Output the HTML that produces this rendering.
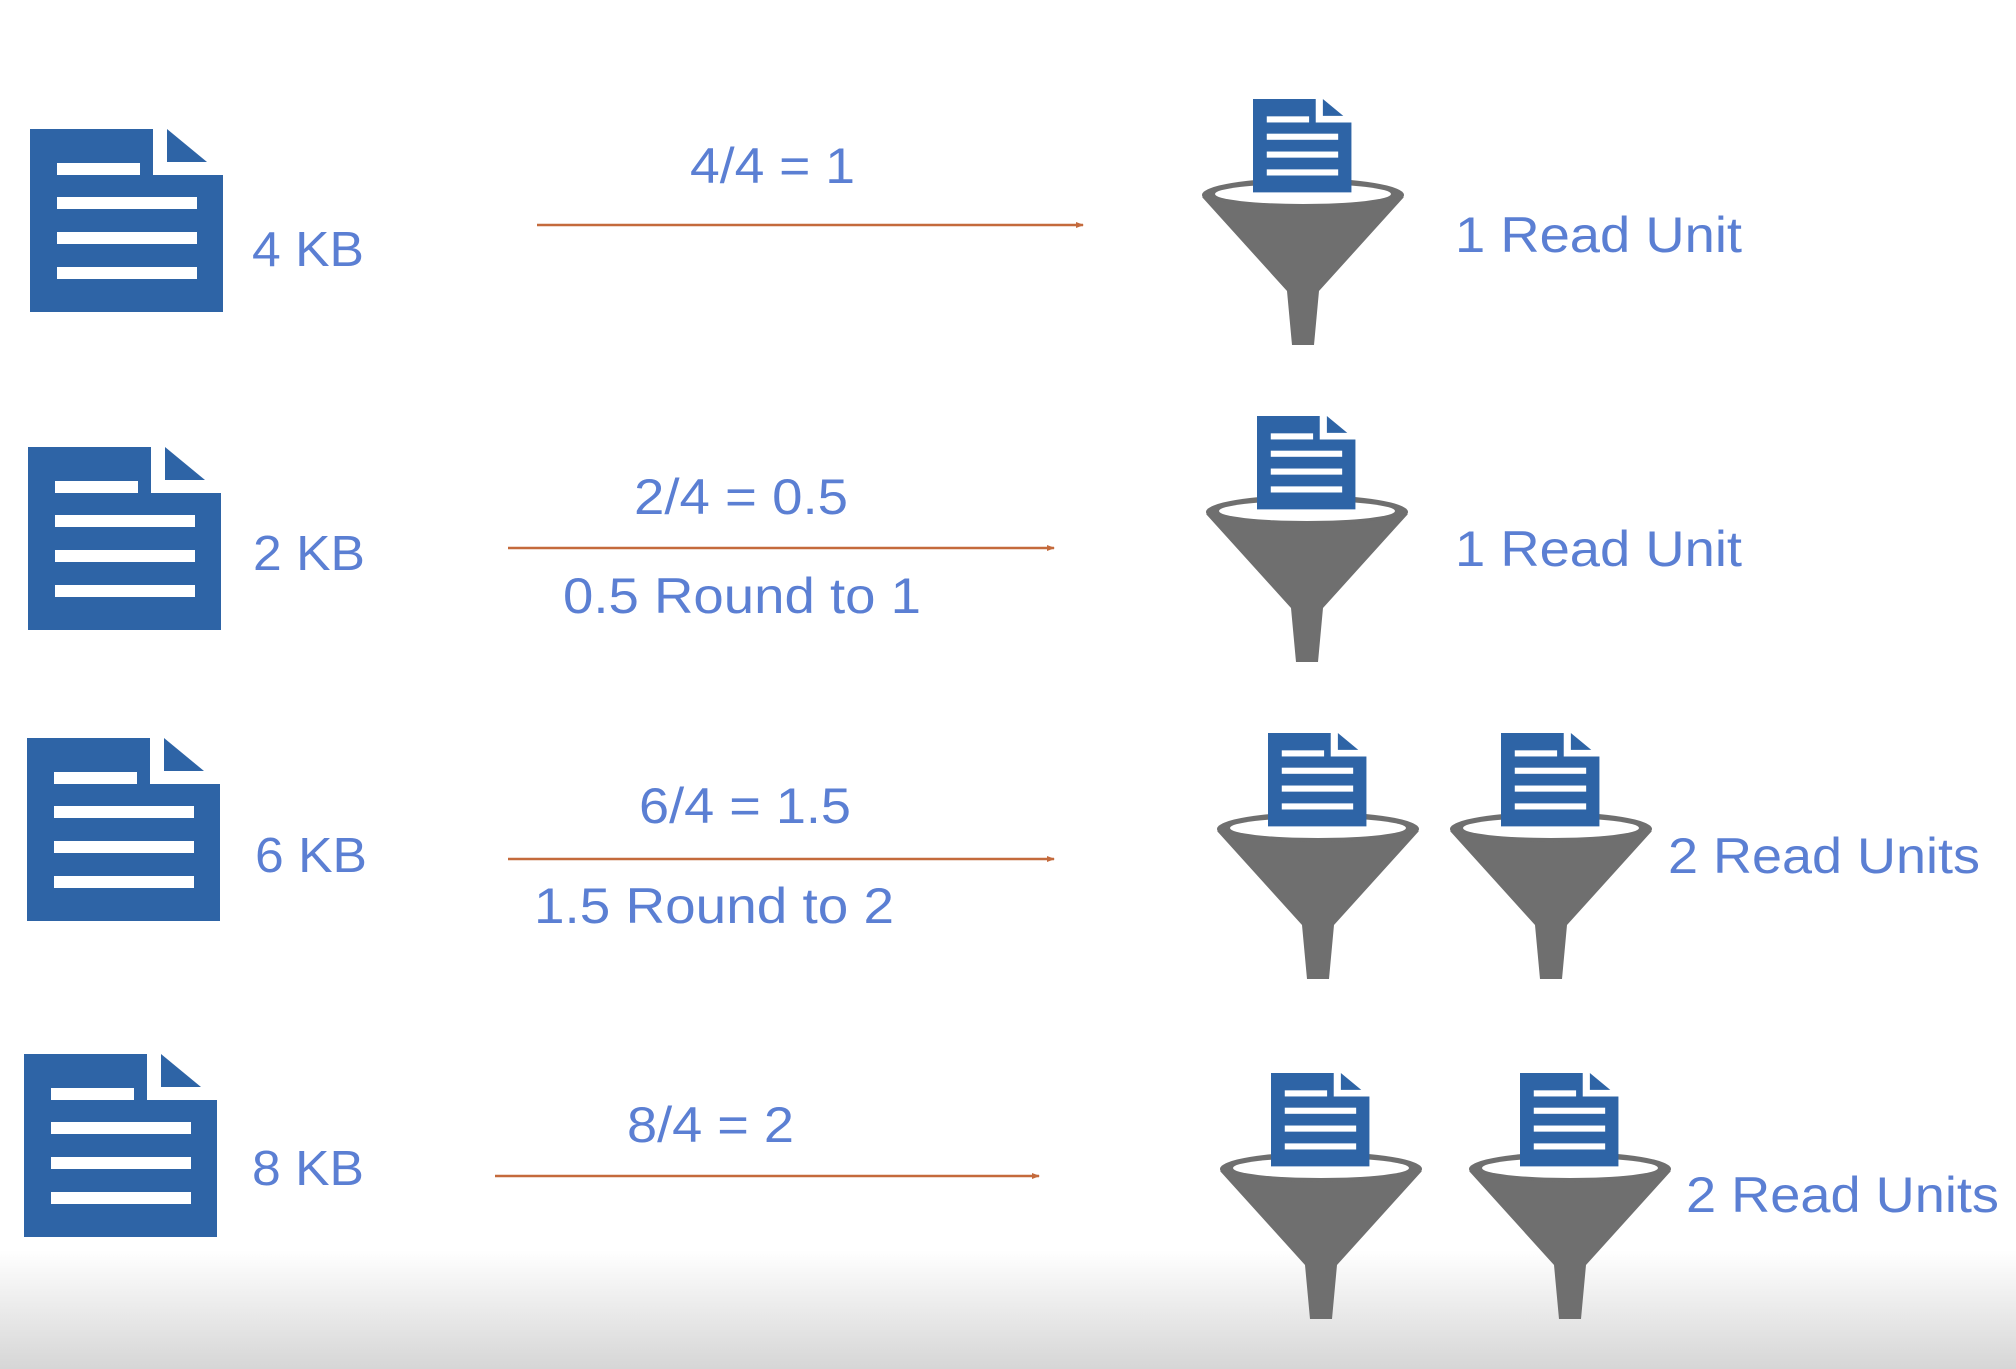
<!DOCTYPE html>
<html><head><meta charset="utf-8"><style>
html,body{margin:0;padding:0;background:#fff;}
svg{display:block;}
text{font-family:"Liberation Sans",sans-serif;fill:#5b7fd3;}
</style></head><body>
<svg width="2016" height="1369" viewBox="0 0 2016 1369" xmlns="http://www.w3.org/2000/svg">
<defs>
<linearGradient id="bg" x1="0" y1="0" x2="0" y2="1">
<stop offset="0" stop-color="#ffffff"/><stop offset="1" stop-color="#d6d6d6"/></linearGradient>
<g id="doc">
<path d="M0 0H123V46H193V183H0Z" fill="#2e64a6"/>
<path d="M137 0V33H177Z" fill="#2e64a6"/>
<rect x="27" y="34" width="83" height="12" fill="#fff"/>
<rect x="27" y="68" width="140" height="12" fill="#fff"/>
<rect x="27" y="103" width="140" height="12" fill="#fff"/>
<rect x="27" y="138" width="140" height="12" fill="#fff"/>
</g>
<g id="fun">
<ellipse cx="0" cy="2" rx="101" ry="17" fill="#6f6f6f"/>
<ellipse cx="0" cy="1" rx="88" ry="10" fill="#fff"/>
<use href="#doc" transform="translate(-50,-94) scale(0.51)"/>
<path d="M-101 4 Q0 26 101 4 L16 98 L11 152 L-11 152 L-16 98 Z" fill="#6f6f6f"/>
</g>
<marker id="ah" markerWidth="8" markerHeight="8" refX="7" refY="4" orient="auto" markerUnits="userSpaceOnUse">
<path d="M0 1L8 4L0 7Z" fill="#c46a3c"/></marker>
</defs>
<rect x="0" y="1250" width="2016" height="119" fill="url(#bg)"/>

<use href="#doc" x="30" y="129"/>
<use href="#doc" x="28" y="447"/>
<use href="#doc" x="27" y="738"/>
<use href="#doc" x="24" y="1054"/>

<text x="252" y="266" font-size="49" textLength="112" lengthAdjust="spacingAndGlyphs">4 KB</text>
<text x="253" y="570" font-size="49" textLength="112" lengthAdjust="spacingAndGlyphs">2 KB</text>
<text x="255" y="872" font-size="49" textLength="112" lengthAdjust="spacingAndGlyphs">6 KB</text>
<text x="252" y="1185" font-size="49" textLength="112" lengthAdjust="spacingAndGlyphs">8 KB</text>

<g stroke="#c46a3c" stroke-width="2.5" marker-end="url(#ah)">
<line x1="537" y1="225" x2="1083" y2="225"/>
<line x1="508" y1="548" x2="1054" y2="548"/>
<line x1="508" y1="859" x2="1054" y2="859"/>
<line x1="495" y1="1176" x2="1039" y2="1176"/>
</g>

<text x="690" y="183" font-size="50" textLength="165" lengthAdjust="spacingAndGlyphs">4/4 = 1</text>
<text x="634" y="514" font-size="50" textLength="214" lengthAdjust="spacingAndGlyphs">2/4 = 0.5</text>
<text x="563" y="613" font-size="50" textLength="358" lengthAdjust="spacingAndGlyphs">0.5 Round to 1</text>
<text x="639" y="823" font-size="50" textLength="212" lengthAdjust="spacingAndGlyphs">6/4 = 1.5</text>
<text x="534" y="923" font-size="50" textLength="360" lengthAdjust="spacingAndGlyphs">1.5 Round to 2</text>
<text x="627" y="1142" font-size="50" textLength="167" lengthAdjust="spacingAndGlyphs">8/4 = 2</text>

<use href="#fun" x="1303" y="193"/>
<use href="#fun" x="1307" y="510"/>
<use href="#fun" x="1318" y="827"/>
<use href="#fun" x="1551" y="827"/>
<use href="#fun" x="1321" y="1167"/>
<use href="#fun" x="1570" y="1167"/>

<text x="1455" y="252" font-size="50" textLength="287" lengthAdjust="spacingAndGlyphs">1 Read Unit</text>
<text x="1455" y="566" font-size="50" textLength="287" lengthAdjust="spacingAndGlyphs">1 Read Unit</text>
<text x="1668" y="873" font-size="50" textLength="312" lengthAdjust="spacingAndGlyphs">2 Read Units</text>
<text x="1686" y="1212" font-size="50" textLength="313" lengthAdjust="spacingAndGlyphs">2 Read Units</text>
</svg>
</body></html>
